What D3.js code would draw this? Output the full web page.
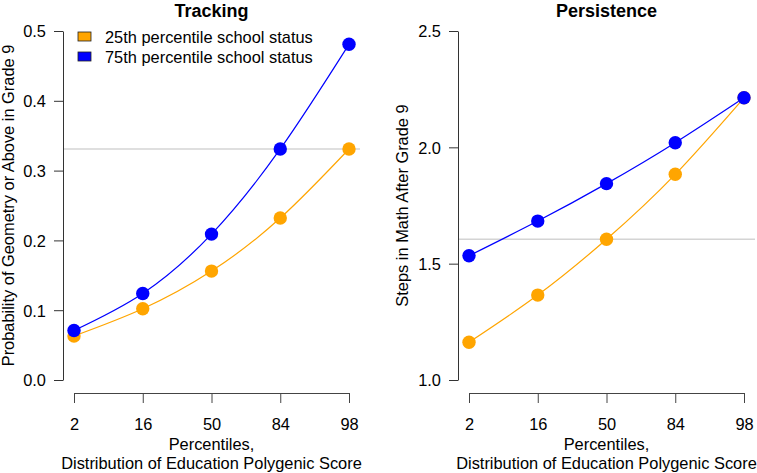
<!DOCTYPE html>
<html>
<head>
<meta charset="utf-8">
<script src="https://cdn.jsdelivr.net/npm/d3@7"></script>
<style>
  html, body { margin: 0; padding: 0; background: #fff; }
  svg { display: block; }
  text { font-family: "Liberation Sans", Arial, Helvetica, sans-serif; fill: #000; }
</style>
</head>
<body>
<svg id="chart" width="757" height="473"></svg>
<script>
// ---- data ----
const percentiles = ["2", "16", "50", "84", "98"];
const seriesNames = ["25th percentile school status", "75th percentile school status"];
const seriesColors = ["#FFA500", "#0000FF"];

const trackingLow  = [0.063, 0.102, 0.156, 0.232, 0.331];
const trackingHigh = [0.071, 0.124, 0.209, 0.331, 0.481];
const trackingRef = 0.331;
const trackingTicks = [0.0, 0.1, 0.2, 0.3, 0.4, 0.5];

const persistLow  = [1.162, 1.365, 1.605, 1.884, 2.213];
const persistHigh = [1.534, 1.683, 1.844, 2.020, 2.213];
const persistRef = 1.605;
const persistTicks = [1.0, 1.5, 2.0, 2.5];

const svg = d3.select("#chart");
const FS = "16.4px";

function panel(opts) {
  const g = svg.append("g");
  const x = d3.scalePoint().domain(percentiles).range(opts.xRange);
  const y = d3.scaleLinear().domain(opts.yDomain).range([380, 31]);

  // reference line
  g.append("line")
    .attr("x1", opts.axisX).attr("x2", opts.refEnd)
    .attr("y1", y(opts.ref)).attr("y2", y(opts.ref))
    .attr("stroke", "#d4d4d4").attr("stroke-width", 1.5);

  // y axis
  const ya = g.append("g").attr("transform", `translate(${opts.axisX},0)`)
    .call(d3.axisLeft(y).tickValues(opts.yTicks).tickFormat(d3.format(".1f"))
      .tickSize(9).tickSizeOuter(0).tickPadding(8));
  ya.selectAll("text").style("font-size", FS).attr("dy", "0.36em");
  ya.selectAll("path, line").attr("stroke", "#333");

  // x axis
  const xa = g.append("g").attr("transform", `translate(0,393)`)
    .call(d3.axisBottom(x).tickSize(10).tickSizeOuter(0).tickPadding(15));
  xa.selectAll("text").style("font-size", FS);
  xa.selectAll("path, line").attr("stroke", "#444");

  // titles
  const cx = (opts.xRange[0] + opts.xRange[1]) / 2;
  g.append("text").attr("x", cx).attr("y", 17).attr("text-anchor", "middle")
    .style("font-size", "18px").style("font-weight", "bold").text(opts.title);
  g.append("text").attr("x", cx).attr("y", 450).attr("text-anchor", "middle")
    .style("font-size", FS).text("Percentiles,");
  g.append("text").attr("x", cx).attr("y", 469).attr("text-anchor", "middle")
    .style("font-size", FS).text("Distribution of Education Polygenic Score");
  g.append("text")
    .attr("transform", `translate(${opts.yLabelX},${(31 + 380) / 2}) rotate(-90)`)
    .attr("text-anchor", "middle").style("font-size", FS).text(opts.yLabel);

  // series
  const line = d3.line().x((d, i) => x(percentiles[i])).y(d => y(d)).curve(d3.curveNatural);
  opts.series.forEach((vals, si) => {
    g.append("path").datum(vals).attr("d", line)
      .attr("fill", "none").attr("stroke", seriesColors[si]).attr("stroke-width", 1.2);
  });
  opts.series.forEach((vals, si) => {
    g.selectAll(null).data(vals).enter().append("circle")
      .attr("cx", (d, i) => x(percentiles[i])).attr("cy", d => y(d))
      .attr("r", 6.7).attr("fill", seriesColors[si]);
  });
  return g;
}

panel({
  title: "Tracking", xRange: [74, 349], axisX: 63, refEnd: 360,
  yDomain: [0, 0.5], yTicks: trackingTicks, ref: trackingRef,
  yLabel: "Probability of Geometry or Above in Grade 9", yLabelX: 14,
  series: [trackingLow, trackingHigh]
});
panel({
  title: "Persistence", xRange: [469, 744], axisX: 458, refEnd: 755,
  yDomain: [1.0, 2.5], yTicks: persistTicks, ref: persistRef,
  yLabel: "Steps in Math After Grade 9", yLabelX: 408,
  series: [persistLow, persistHigh]
});

// legend
const leg = svg.append("g");
seriesNames.forEach((name, i) => {
  leg.append("rect").attr("x", 78).attr("y", 32 + i * 20).attr("width", 13).attr("height", 9)
    .attr("fill", seriesColors[i]).attr("stroke", "#222").attr("stroke-width", 0.8);
  leg.append("text").attr("x", 105).attr("y", 43.3 + i * 20).style("font-size", FS).text(name);
});
</script>
</body>
</html>
